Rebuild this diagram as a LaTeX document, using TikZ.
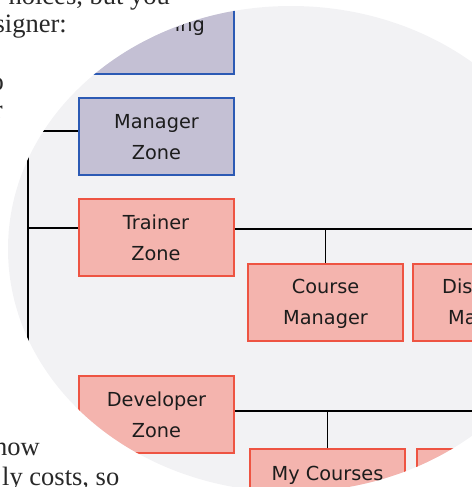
\documentclass[tikz,border=0pt]{standalone}
\usepackage{fontspec}
\setmainfont{Liberation Serif}
\newfontfamily\boxfont{DejaVu Sans}
\definecolor{lensgray}{RGB}{242,242,244}
\definecolor{purplefill}{RGB}{196,192,212}
\definecolor{blueedge}{RGB}{44,90,180}
\definecolor{redfill}{RGB}{244,180,174}
\definecolor{rededge}{RGB}{238,84,66}
\definecolor{pagetext}{RGB}{40,40,40}
\definecolor{boxtext}{RGB}{28,28,28}
\begin{document}
\begin{tikzpicture}[x=1pt,y=-1pt,
  pagetxt/.style={inner sep=0pt, anchor=base east, text=pagetext, font=\fontsize{26.5}{29}\selectfont},
  zonebox/.style={line width=2pt, minimum width=155pt, minimum height=77pt, inner sep=0pt,
    align=center, text depth=0pt, text=boxtext, font=\boxfont\fontsize{19.3}{31}\selectfont},
  purplebox/.style={zonebox, fill=purplefill, draw=blueedge},
  redbox/.style={zonebox, fill=redfill, draw=rededge},
  boxlabel/.style={inner sep=0pt, text=boxtext, font=\boxfont\fontsize{19.3}{31}\selectfont},
  link/.style={draw=black, line width=1.8pt}
]
\useasboundingbox (0,0) rectangle (471,487);
% page text around the lens
\node[pagetxt] (p1) at (170,5) {hoices, but you};
\node[pagetxt] (p2) at (67,33) {signer:};
\node[pagetxt] (p3) at (4,90) {o};
\node[pagetxt] (p4) at (3,118) {r};
\node[pagetxt] (p5) at (40,455) {now};
\node[pagetxt, anchor=base west] (p6) at (2,485) {ly costs, so};
% lens
\fill[lensgray] (291,249) ellipse [x radius=283, y radius=243];
\begin{scope}
\clip (291,249) ellipse [x radius=283, y radius=243];
% boxes
\node[purplebox, minimum height=118pt] (topb) at (156,15) {};
\node[purplebox] (mgr) at (156.5,136.5) {Manager\\Zone};
\node[redbox] (trn) at (156,237.5) {Trainer\\Zone};
\node[redbox] (cm) at (325.5,302) {Course\\Manager};
\node[redbox] (dis) at (490.5,302) {};
\node[redbox] (dev) at (156.5,414.5) {Developer\\Zone};
\node[redbox] (myc) at (327.5,487.5) {};
\node[redbox] (nxt) at (494.5,487.5) {};
% partial labels
\node[boxlabel, anchor=base east] (topl) at (205,32) {ing};
\node[boxlabel, anchor=base west] (disl1) at (442,293) {Dis};
\node[boxlabel, anchor=base west] (disl2) at (448,324) {Ma};
\node[boxlabel, anchor=base] (mycl) at (327.5,480) {My Courses};
% connectors
\coordinate (tTop) at (28,100);
\coordinate (tBot) at (28,400);
\coordinate (farR) at (480,0);
\coordinate (mgrIn) at ([yshift=5.5pt]mgr.west);
\coordinate (trnIn) at ([yshift=9.5pt]trn.west);
\coordinate (trnOut) at ([yshift=8.5pt]trn.east);
\coordinate (devOut) at ([yshift=3.5pt]dev.east);
\draw[link] (tTop) -- (tBot);
\draw[link] (tTop |- mgrIn) -- (mgrIn);
\draw[link] (tTop |- trnIn) -- (trnIn);
\draw[link] (trnOut) -- (trnOut -| farR);
\draw[link] (cm.north) -- (cm.north |- trnOut);
\draw[link] (devOut) -- (devOut -| farR);
\draw[link] (myc.north) -- (myc.north |- devOut);
\end{scope}
\end{tikzpicture}
\end{document}
